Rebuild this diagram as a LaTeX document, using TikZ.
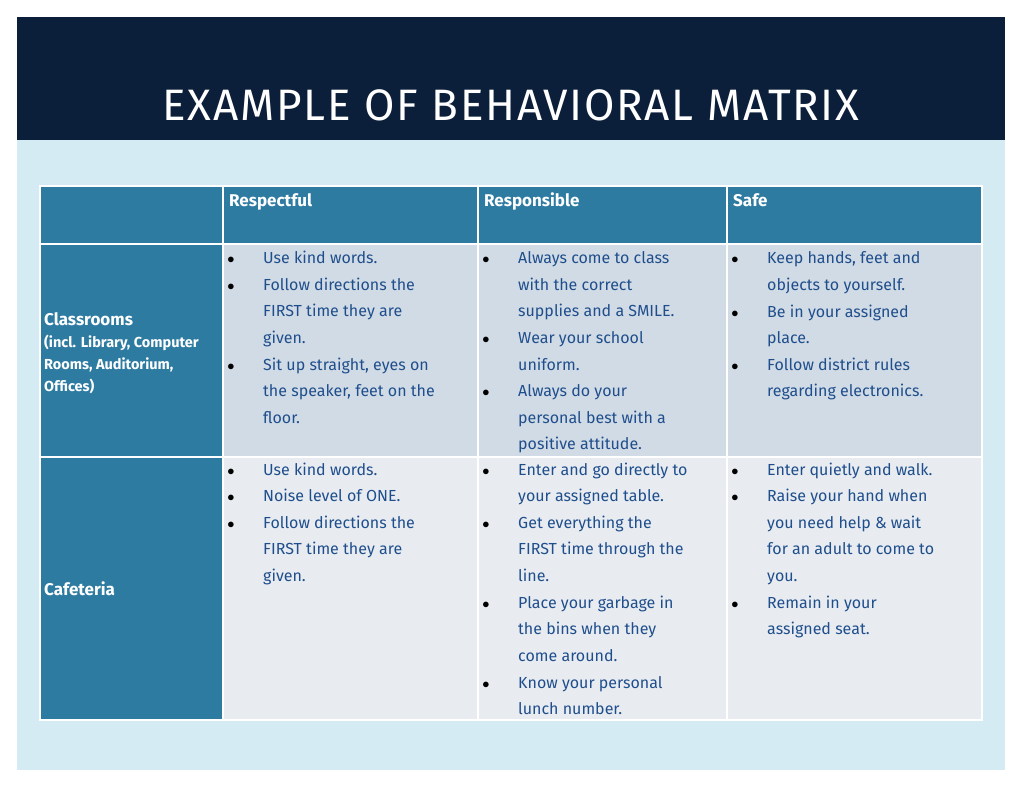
\documentclass[tikz,border=0pt]{standalone}
\usepackage{fontspec}
\setmainfont{Fira Sans}
\newfontfamily\titlefont[LetterSpace=4]{Fira Sans}
\definecolor{hdr}{HTML}{0B1F3A}
\definecolor{bgl}{HTML}{D5EBF3}
\definecolor{tblue}{HTML}{2E7BA2}
\definecolor{cellA}{HTML}{D1DBE5}
\definecolor{cellB}{HTML}{E8ECF1}
\definecolor{txt}{HTML}{1F4E8C}
\tikzset{
 cell/.style={draw=white,line width=2pt},
 itm/.style={anchor=base west,inner sep=0pt,font=\fontsize{16}{26.5}\selectfont,text=txt},
 bul/.style={anchor=base,inner sep=0pt,font=\fontsize{14}{26.5}\selectfont,text=black},
 hd/.style={anchor=base west,inner sep=0pt,font=\fontsize{17}{20}\selectfont\bfseries,text=white},
}
\newcommand{\bitem}[4]{% bullet x, text x, baseline y, text
 \node[bul] at (#1,#3) {$\bullet$};
 \node[itm] at (#2,#3) {\parbox[t]{215pt}{\raggedright #4}};}
\begin{document}
\begin{tikzpicture}[x=1pt,y=-1pt]
\useasboundingbox (0,0) rectangle (1024,791);
\fill[white] (0,0) rectangle (1024,791);
\fill[bgl] (17,17) rectangle (1005,770);
\fill[hdr] (17,17) rectangle (1005,140);
\node[text=white,font=\fontsize{44}{48}\selectfont\titlefont,anchor=base] (title) at (511,121) {EXAMPLE OF BEHAVIORAL MATRIX};
% table cells
\fill[tblue] (40,186) rectangle (982,244);
\fill[tblue] (40,244) rectangle (223,720);
\fill[cellA] (223,244) rectangle (982,457);
\fill[cellB] (223,457) rectangle (982,720);
\draw[cell] (40,186) rectangle (982,720);
\foreach \x in {223,478,727} \draw[cell] (\x,186) -- (\x,720);
\draw[cell] (40,244) -- (982,244);
\draw[cell] (40,457) -- (982,457);
% headers
\node[hd] (h1) at (229,207) {Respectful};
\node[hd] (h2) at (484,207) {Responsible};
\node[hd] (h3) at (733,207) {Safe};
\node[hd] (r1) at (44,325) {Classrooms};
\node[anchor=base west,inner sep=0pt,text=white,font=\fontsize{14.5}{22}\selectfont\bfseries] (r1b) at (44,347) {\parbox[t]{178pt}{\raggedright (incl. Library, Computer\\Rooms, Auditorium,\\Offices)}};
\node[hd] (r2) at (44,595) {Cafeteria};
% row 1
\bitem{231}{263}{264}{Use kind words.}
\bitem{231}{263}{290.5}{Follow directions the\\FIRST time they are\\given.}
\bitem{231}{263}{370}{Sit up straight, eyes on\\the speaker, feet on the\\floor.}
\bitem{486}{518}{264}{Always come to class\\with the correct\\supplies and a SMILE.}
\bitem{486}{518}{343.5}{Wear your school\\uniform.}
\bitem{486}{518}{396.5}{Always do your\\personal best with a\\positive attitude.}
\bitem{735}{767}{264}{Keep hands, feet and\\objects to yourself.}
\bitem{735}{767}{317}{Be in your assigned\\place.}
\bitem{735}{767}{370}{Follow district rules\\regarding electronics.}
% row 2
\bitem{231}{263}{475}{Use kind words.}
\bitem{231}{263}{501.5}{Noise level of ONE.}
\bitem{231}{263}{528}{Follow directions the\\FIRST time they are\\given.}
\bitem{486}{518}{475}{Enter and go directly to\\your assigned table.}
\bitem{486}{518}{528}{Get everything the\\FIRST time through the\\line.}
\bitem{486}{518}{608}{Place your garbage in\\the bins when they\\come around.}
\bitem{486}{518}{688}{Know your personal\\lunch number.}
\bitem{735}{767}{475}{Enter quietly and walk.}
\bitem{735}{767}{501.5}{Raise your hand when\\you need help \& wait\\for an adult to come to\\you.}
\bitem{735}{767}{608}{Remain in your\\assigned seat.}
\end{tikzpicture}
\end{document}
